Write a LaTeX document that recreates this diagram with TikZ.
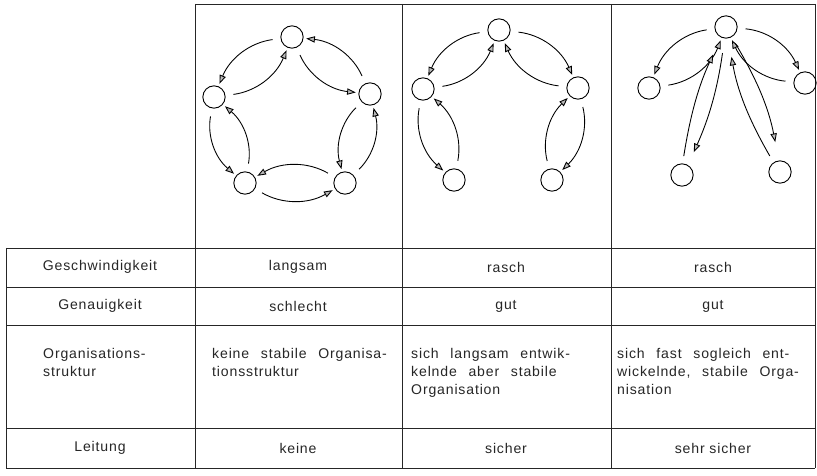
\documentclass[tikz,border=0pt]{standalone}
\usepackage{fontspec}
\setmainfont{Liberation Sans}[LetterSpace=6]
\usetikzlibrary{arrows.meta}

\tikzstyle{nS}=[circle,minimum size=6.7mm,inner sep=0pt,draw,line width=0.8pt]
\tikzstyle{eA}=[line width=0.75pt,-{Triangle[length=2.6mm,width=1.9mm,fill=gray!55]},shorten <=2.4mm,shorten >=0.8mm]
\tikzstyle{eL}=[eA,shorten <=2.2mm,shorten >=5.6mm]
\tikzstyle{tS}=[inner sep=0pt,text=black!85,font=\fontsize{12}{15.3}\selectfont]
\tikzstyle{tB}=[tS,anchor=north west,align=left,font={\fontsize{12}{15.3}\selectfont\spaceskip=10pt plus 2pt minus 1pt}]
\tikzstyle{gL}=[line width=0.55pt,black!85]

\begin{document}
\begin{tikzpicture}[x=0.3mm,y=-0.3mm]
        \useasboundingbox (0,0) rectangle (817,476);
        % table grid
        \draw[gL] (195,4) -- (815,4);
        \foreach \y in {248,287,325,428,468} \draw[gL] (6,\y) -- (815,\y);
        \foreach \x in {195,402,611,815} \draw[gL] (\x,4) -- (\x,468);
        \draw[gL] (6,248) -- (6,468);

        % ring
        \draw (292,37) node[nS] (a1) {};
        \draw (370,94) node[nS] (b1) {};
        \draw (345,183) node[nS] (c1) {};
        \draw (245,183) node[nS] (d1) {};
        \draw (214,97) node[nS] (e1) {};
        \path
            (a1) edge[eA,bend right=30] (b1)
            (b1) edge[eA,bend right=30] (a1)
            (b1) edge[eA,bend right=30] (c1)
            (c1) edge[eA,bend right=30] (b1)
            (c1) edge[eA,bend right=30] (d1)
            (d1) edge[eA,bend right=30] (c1)
            (d1) edge[eA,bend right=30] (e1)
            (e1) edge[eA,bend right=30] (d1)
            (e1) edge[eA,bend right=30] (a1)
            (a1) edge[eA,bend right=30] (e1)
        ;

        % chain
        \draw (499,30) node[nS] (a2) {};
        \draw (578,88) node[nS] (b2) {};
        \draw (552,180) node[nS] (c2) {};
        \draw (454,180) node[nS] (d2) {};
        \draw (423,89) node[nS] (e2) {};
        \path
            (a2) edge[eA,bend right=30] (e2)
            (e2) edge[eA,bend right=30] (a2)
            (e2) edge[eA,bend right=30] (d2)
            (d2) edge[eA,bend right=30] (e2)
            (a2) edge[eA,bend left=30] (b2)
            (b2) edge[eA,bend left=30] (a2)
            (b2) edge[eA,bend left=30] (c2)
            (c2) edge[eA,bend left=30] (b2)
        ;

        % star
        \draw (726,27) node[nS] (a3) {};
        \draw (805,83) node[nS] (b3) {};
        \draw (780,172) node[nS] (c3) {};
        \draw (682,175) node[nS] (d3) {};
        \draw (649,88) node[nS] (e3) {};
        \path
            (a3) edge[eA,bend right=30] (e3)
            (e3) edge[eA,bend right=30] (a3)
            (a3) edge[eA,bend left=30] (b3)
            (b3) edge[eA,bend left=30] (a3)
            (a3.263) edge[eL,bend left=8,shorten <=4.4mm,shorten >=4.2mm] (d3.59)
            (d3.87) edge[eL,bend left=8] (a3.245)
            (a3.299) edge[eL,bend left=10] (c3.96)
            (c3.124) edge[eL,bend left=10] (a3.281)
        ;

        % row texts
        \draw (100,267) node[tS] (r1) {Geschwindigkeit};
        \draw (298,267) node[tS] (r1a) {langsam};
        \draw (506,267) node[tS] (r1b) {rasch};
        \draw (713,267) node[tS] (r1c) {rasch};
        \draw (100,306) node[tS] (r2) {Genauigkeit};
        \draw (298,306) node[tS] (r2a) {schlecht};
        \draw (506,306) node[tS] (r2b) {gut};
        \draw (713,306) node[tS] (r2c) {gut};
        \draw (43,348) node[tB] (r3) {Organisations-\\struktur};
        \draw (212,348) node[tB] (r3a) {keine stabile Organisa-\\tionsstruktur};
        \draw (411,348) node[tB] (r3b) {sich langsam entwik-\\kelnde aber stabile\\Organisation};
        \draw (617,348) node[tB] (r3c) {sich fast sogleich ent-\\wickelnde, stabile Orga-\\nisation};
        \draw (100,448) node[tS] (r4) {Leitung};
        \draw (298,448) node[tS] (r4a) {keine};
        \draw (506,448) node[tS] (r4b) {sicher};
        \draw (713,448) node[tS] (r4c) {sehr sicher};
\end{tikzpicture}
\end{document}
